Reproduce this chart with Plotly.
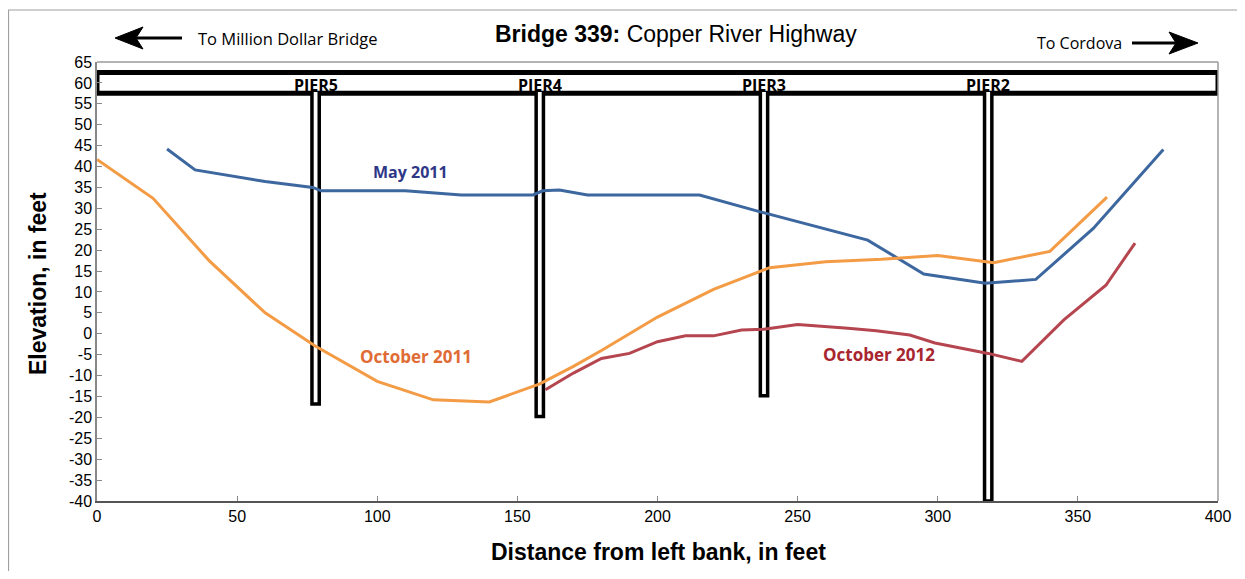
import plotly.graph_objects as go

# ---- data ----
may11_x = [25, 35, 60, 77, 80, 110, 130, 155.6, 159, 165, 175, 215, 237, 272, 275, 295, 317, 335, 355.5, 380.5]
may11_y = [44.2, 39.2, 36.4, 35.0, 34.2, 34.2, 33.2, 33.2, 34.2, 34.4, 33.2, 33.2, 29.1, 22.9, 22.4, 14.3, 12.1, 13.0, 25.2, 44.1]

oct11_x = [0, 20, 40, 60, 78, 100, 120, 140, 158, 170, 180, 200, 220, 240, 260, 280, 300, 320, 340, 360.4]
oct11_y = [41.7, 32.4, 17.5, 5.0, -3.0, -11.4, -15.8, -16.3, -12.0, -7.8, -4.0, 4.0, 10.6, 15.8, 17.2, 17.8, 18.7, 17.0, 19.7, 32.7]

oct12_x = [160, 170, 180, 190, 200, 210, 220, 230, 238, 250, 268, 278, 290, 299, 318, 330, 345, 360, 370.4]
oct12_y = [-13.4, -9.4, -5.9, -4.7, -1.9, -0.5, -0.5, 0.9, 1.1, 2.2, 1.3, 0.7, -0.3, -2.2, -4.7, -6.6, 3.3, 11.6, 21.7]

pier_names = ["PIER5", "PIER4", "PIER3", "PIER2"]
pier_x = [78, 158, 238, 318]
pier_bottom = [-16.8, -19.8, -14.8, -40]
deck_bottom = 57.5
deck_top = 62.5
pier_half = 1.3

x_ticks = [0, 50, 100, 150, 200, 250, 300, 350, 400]
y_ticks = list(range(-40, 70, 5))

# page has an 8px body margin; target page-pixel layout
OFF = 8
W, H = 1229, 563
P_L, P_R, P_T, P_B = 97, 1218, 62, 501  # plot area in page pixels
L = P_L - OFF
T = P_T - OFF
R = W - (P_R - OFF)
B = H - (P_B - OFF)
PW, PH = P_R - P_L, P_B - P_T


def fx(px):
    return (px - P_L) / PW


def fy(py):
    return (P_B - py) / PH


fig = go.Figure()

fig.add_trace(go.Scatter(x=may11_x, y=may11_y, mode="lines",
                         line=dict(color="#3D679F", width=3), name="May 2011"))
fig.add_trace(go.Scatter(x=oct11_x, y=oct11_y, mode="lines",
                         line=dict(color="#F39B45", width=3), name="October 2011"))
fig.add_trace(go.Scatter(x=oct12_x, y=oct12_y, mode="lines",
                         line=dict(color="#B5454F", width=3), name="October 2012"))

shapes = []
# deck
shapes.append(dict(type="rect", xref="x", yref="y", x0=0, x1=400, y0=deck_bottom, y1=deck_top,
                   line=dict(color="black", width=5), fillcolor="white", layer="below"))
# piers
for px_, pb in zip(pier_x, pier_bottom):
    x0, x1 = px_ - pier_half, px_ + pier_half
    top = deck_bottom + 0.3
    shapes.append(dict(type="path", xref="x", yref="y",
                       path=f"M {x0},{top} L {x0},{pb} L {x1},{pb} L {x1},{top} Z",
                       line=dict(color="black", width=0), fillcolor="white", layer="below"))
    shapes.append(dict(type="path", xref="x", yref="y",
                       path=f"M {x0},{top} L {x0},{pb} L {x1},{pb} L {x1},{top}",
                       line=dict(color="black", width=3.5), layer="below"))

# frame top/right
shapes.append(dict(type="line", xref="paper", yref="paper", x0=0, x1=1, y0=1, y1=1,
                   line=dict(color="#9a9a9a", width=1.5)))
shapes.append(dict(type="line", xref="paper", yref="paper", x0=1, x1=1, y0=0, y1=1,
                   line=dict(color="#9a9a9a", width=1.5)))
# outer border
shapes.append(dict(type="rect", xref="paper", yref="paper", x0=fx(8.5), x1=fx(1262), y0=fy(10), y1=fy(600),
                   line=dict(color="#a0a0a0", width=1.2)))
# left arrow
shapes.append(dict(type="line", xref="paper", yref="paper", x0=fx(134), x1=fx(182), y0=fy(38), y1=fy(38),
                   line=dict(color="black", width=3)))
shapes.append(dict(type="path", xref="paper", yref="paper",
                   path=f"M {fx(115)},{fy(38)} L {fx(143)},{fy(27)} L {fx(136)},{fy(38)} L {fx(143)},{fy(49)} Z",
                   line=dict(color="black", width=1), fillcolor="black"))
# right arrow
shapes.append(dict(type="line", xref="paper", yref="paper", x0=fx(1132), x1=fx(1180), y0=fy(43), y1=fy(43),
                   line=dict(color="black", width=3)))
shapes.append(dict(type="path", xref="paper", yref="paper",
                   path=f"M {fx(1198)},{fy(43)} L {fx(1169)},{fy(32)} L {fx(1176)},{fy(43)} L {fx(1169)},{fy(54)} Z",
                   line=dict(color="black", width=1), fillcolor="black"))

ann = []
lab_font = "Open Sans, Lato, sans-serif"
C = dict(xanchor="center", yanchor="middle", showarrow=False)
for name, px_ in zip(pier_names, pier_x):
    ann.append(dict(x=px_, y=59.6, xref="x", yref="y", text=f"<b>{name}</b>",
                    font=dict(family=lab_font, size=16, color="black"), **C))
ann.append(dict(x=111.7, y=38.8, xref="x", yref="y", text="<b>May 2011</b>",
                font=dict(family=lab_font, size=16, color="#2F3787"), **C))
ann.append(dict(x=114, y=-5.5, xref="x", yref="y", text="<b>October 2011</b>",
                font=dict(family=lab_font, size=17, color="#E06B34"), **C))
ann.append(dict(x=279, y=-4.9, xref="x", yref="y", text="<b>October 2012</b>",
                font=dict(family=lab_font, size=17, color="#A8262F"), **C))
ann.append(dict(x=fx(676), y=fy(34), xref="paper", yref="paper",
                text="<b>Bridge 339:</b> Copper River Highway",
                font=dict(family="Liberation Sans, Arial, sans-serif", size=23, color="black"), **C))
ann.append(dict(x=fx(287), y=fy(38), xref="paper", yref="paper", text="To Million Dollar Bridge",
                font=dict(family=lab_font, size=16.5, color="black"), **C))
ann.append(dict(x=fx(1079), y=fy(43), xref="paper", yref="paper", text="To Cordova",
                font=dict(family=lab_font, size=16, color="black"), **C))
ann.append(dict(x=fx(658), y=fy(552), xref="paper", yref="paper",
                text="<b>Distance from left bank, in feet</b>",
                font=dict(family="Liberation Sans, Arial, sans-serif", size=23, color="black"), **C))
ann.append(dict(x=fx(38), y=fy(284), xref="paper", yref="paper", textangle=-90,
                text="<b>Elevation, in feet</b>",
                font=dict(family="Liberation Sans, Arial, sans-serif", size=23, color="black"), **C))

fig.update_layout(
    width=W, height=H,
    margin=dict(l=L, r=R, t=T, b=B, autoexpand=False),
    paper_bgcolor="white", plot_bgcolor="white",
    showlegend=False,
    shapes=shapes, annotations=ann,
    xaxis=dict(range=[0, 400], tickvals=x_ticks, ticktext=[str(v) for v in x_ticks],
               automargin=False,
               showgrid=False, zeroline=False, showline=True, linecolor="#555555", linewidth=2,
               ticks="inside", ticklen=5, tickcolor="#888888",
               tickfont=dict(family="Liberation Sans Narrow, Arial Narrow, Liberation Sans, Arial", size=16, color="black")),
    yaxis=dict(range=[-40, 65], tickvals=y_ticks, ticktext=[str(v) for v in y_ticks],
               automargin=False,
               showgrid=False, zeroline=False, showline=True, linecolor="#888888", linewidth=1.5,
               ticks="inside", ticklen=5, tickcolor="#888888",
               tickfont=dict(family="Liberation Sans, Arial", size=16, color="black")),
)

fig.write_html("out.html")
